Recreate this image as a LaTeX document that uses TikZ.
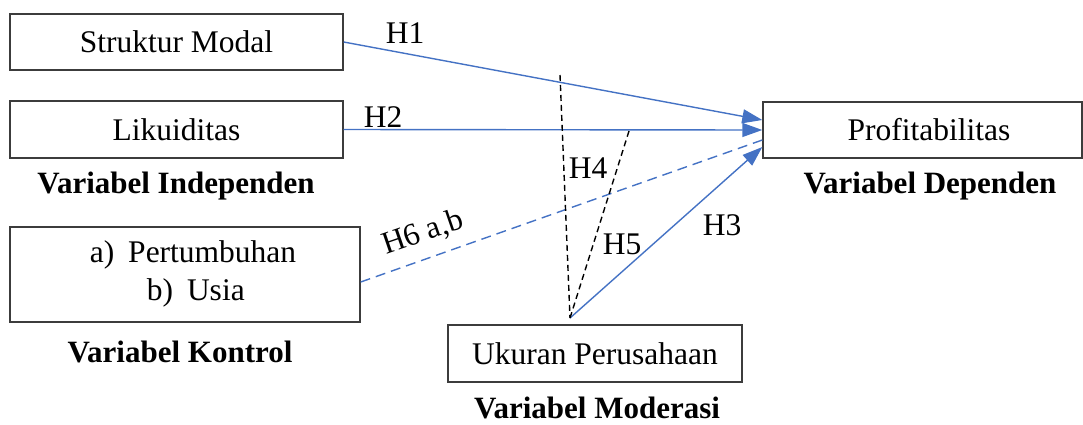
\documentclass[tikz,border=0pt]{standalone}
\usepackage{fontspec}
\setmainfont{Liberation Serif}
\usetikzlibrary{arrows.meta}
\definecolor{linkblue}{RGB}{68,114,196}
\definecolor{boxgray}{RGB}{60,60,60}
\begin{document}
\begin{tikzpicture}[x=1pt,y=-1pt,
  vbox/.style={draw=boxgray,line width=1.4pt,rectangle,inner sep=0pt,font=\fontsize{31.5}{38}\selectfont},
  txt/.style={inner sep=0pt,font=\fontsize{31.5}{38}\selectfont},
  ttl/.style={inner sep=0pt,font=\fontsize{31}{37}\selectfont\bfseries},
  link/.style={draw=linkblue,line width=1.4pt},
  tip/.style={-{Triangle[length=20pt,width=14pt]}},
  modline/.style={draw=black,line width=1.4pt,dash pattern=on 6pt off 4pt}
]
\useasboundingbox (0,0) rectangle (1083,424);
\node[vbox,minimum width=333pt,minimum height=56pt] (struktur) at (176.5,42) {Struktur Modal};
\node[vbox,minimum width=333pt,minimum height=57pt] (likuid) at (176.5,129.5) {Likuiditas};
\node[ttl] (tind) at (176,186) {Variabel Independen};
\node[vbox,minimum width=350pt,minimum height=95pt] (kontrol) at (185,274.5) {};
\node[txt,align=left] (kontroltxt) at (193,274) {a)\hspace{14pt}Pertumbuhan\\\hspace{57pt}b)\hspace{14pt}Usia};
\node[ttl] (tkon) at (180,352) {Variabel Kontrol};
\node[vbox,minimum width=294pt,minimum height=57pt] (ukuran) at (595,353.5) {Ukuran Perusahaan};
\node[ttl] (tmod) at (597,408) {Variabel Moderasi};
\node[vbox,minimum width=319pt,minimum height=56pt] (profit) at (922.5,130) {};
\node[txt] (profittxt) at (929,130) {Profitabilitas};
\node[ttl] (tdep) at (930,186) {Variabel Dependen};

\coordinate (m) at (570,318);
\coordinate (h4top) at (560,75);
\coordinate (h5top) at (629,131);

\draw[link,tip] (struktur.east) -- ([yshift=10pt]profit.west);
\draw[link,tip] (likuid.east) -- (profit.west);
\draw[link,dash pattern=on 10pt off 6pt] ([yshift=-7.5pt]kontrol.east) -- ([yshift=-10pt]profit.west);
\draw[link,tip] (m) -- ([yshift=-17pt]profit.west);
\draw[modline] (h4top) -- (m);
\draw[modline] (h5top) -- (m);

\node[txt] (lh1) at (405,33) {H1};
\node[txt] (lh2) at (383,117) {H2};
\node[txt] (lh4) at (588,168) {H4};
\node[txt] (lh5) at (622,244) {H5};
\node[txt] (lh3) at (722,225) {H3};
\node[txt,rotate=19] (lh6) at (423,233) {H6 a,b};
\end{tikzpicture}
\end{document}
